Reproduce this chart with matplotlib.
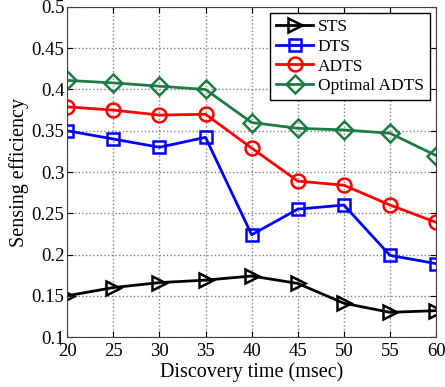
import matplotlib.pyplot as plt

plt.rcParams['font.family'] = ['Liberation Serif', 'DejaVu Serif']

# discovery time (msec)
t = [20, 25, 30, 35, 40, 45, 50, 55, 60]

sts = [0.150, 0.160, 0.166, 0.169, 0.174, 0.165, 0.141, 0.130, 0.132]
dts = [0.350, 0.340, 0.330, 0.342, 0.224, 0.255, 0.260, 0.199, 0.189]
adts = [0.379, 0.375, 0.369, 0.370, 0.329, 0.289, 0.284, 0.260, 0.239]
opt_adts = [0.411, 0.408, 0.404, 0.400, 0.360, 0.353, 0.351, 0.347, 0.320]

yticks = [0.1, 0.15, 0.2, 0.25, 0.3, 0.35, 0.4, 0.45, 0.5]

fig = plt.figure(figsize=(4.45, 3.87), dpi=100)
ax = fig.add_axes([0.151, 0.129, 0.829, 0.853])

ax.plot(t, sts, color='black', marker='>', ms=10, mfc='none', mew=1.8, lw=2, label='STS')
ax.plot(t, dts, color='#0000ff', marker='s', ms=9, mfc='none', mew=1.8, lw=2, label='DTS')
ax.plot(t, adts, color='#ff0000', marker='o', ms=10, mfc='none', mew=1.8, lw=2, label='ADTS')
ax.plot(t, opt_adts, color='#1e7b45', marker='D', ms=9, mfc='none', mew=1.8, lw=2, label='Optimal ADTS')

ax.set_xlim(20, 60)
ax.set_ylim(0.1, 0.5)
ax.set_xticks(t)
ax.set_yticks(yticks)
ax.set_yticklabels([f'{v:g}' for v in yticks])
ax.tick_params(direction='in', top=True, right=True, labelsize=13.5, length=4)
ax.tick_params(axis='y', pad=2)
ax.tick_params(axis='x', pad=4)
ax.grid(True, linestyle=':', color='#808080', lw=1)
for s in ax.spines.values():
    s.set_color('#404040')

ax.set_xlabel('Discovery time (msec)', fontsize=14.5, labelpad=2)
ax.set_ylabel('Sensing efficiency', fontsize=14.5, labelpad=2)

leg = ax.legend(loc='upper right', fontsize=12.5, fancybox=False, edgecolor='black',
                framealpha=1, borderpad=0.35, labelspacing=0.2, handlelength=2.1,
                handletextpad=0.3, borderaxespad=0.35)
leg.get_frame().set_linewidth(1)

fig.savefig('out.png', dpi=100)
